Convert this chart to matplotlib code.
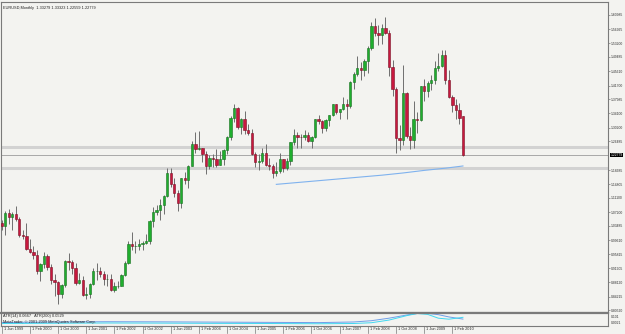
import numpy as np
import matplotlib.pyplot as plt
from matplotlib.patches import Rectangle

# EURUSD monthly, Jun 1999 .. May 2010 (one entry per bar)
opens = [
    1.0430, 1.0350, 1.0700, 1.0590, 1.0680, 1.0540, 1.0090,                          # 1999
    1.0070, 0.9710, 0.9650, 0.9560, 0.9120, 0.9320, 0.9520, 0.9240, 0.8880, 0.8810, 0.8490, 0.8730,  # 2000
    0.9400, 0.9380, 0.9210, 0.8790, 0.8870, 0.8470, 0.8500, 0.8770, 0.9120, 0.9130, 0.9050, 0.8900,  # 2001
    0.8900, 0.8600, 0.8700, 0.8720, 0.9020, 0.9340, 0.9870, 0.9790, 0.9810, 0.9860, 0.9890, 0.9930,  # 2002
    1.0490, 1.0730, 1.0780, 1.0910, 1.1170, 1.1800, 1.1490, 1.1240, 1.0980, 1.1650, 1.1590, 1.1990,  # 2003
    1.2590, 1.2440, 1.2480, 1.2300, 1.1970, 1.2200, 1.2170, 1.2020, 1.2180, 1.2420, 1.2760, 1.3280,  # 2004
    1.3550, 1.3040, 1.3250, 1.2960, 1.2870, 1.2300, 1.2100, 1.2120, 1.2340, 1.2020, 1.1970, 1.1780,  # 2005
    1.1840, 1.2160, 1.1920, 1.2110, 1.2620, 1.2820, 1.2780, 1.2770, 1.2810, 1.2670, 1.2760, 1.3250,  # 2006
    1.3200, 1.3010, 1.3230, 1.3360, 1.3660, 1.3450, 1.3530, 1.3660, 1.3620, 1.4260, 1.4490, 1.4640,  # 2007
    1.4590, 1.4850, 1.5180, 1.5790, 1.5610, 1.5550, 1.5740, 1.5600, 1.4670, 1.4070, 1.2740, 1.2700,  # 2008
    1.3970, 1.2800, 1.2680, 1.3250, 1.3240, 1.4150, 1.4030, 1.4250, 1.4330, 1.4640, 1.4710, 1.4990,  # 2009
    1.4320, 1.3860, 1.3630, 1.3510, 1.33279,                                          # 2010
]
highs = [
    1.0520, 1.0760, 1.0800, 1.0720, 1.0880, 1.0590, 1.0240,
    1.0415, 0.9980, 0.9800, 0.9680, 0.9340, 0.9650, 0.9580, 0.9300, 0.9030, 0.8860, 0.8770, 0.9420,
    0.9600, 0.9410, 0.9340, 0.9070, 0.8990, 0.8690, 0.8800, 0.9200, 0.9330, 0.9230, 0.9110, 0.9040,
    0.9050, 0.8820, 0.8840, 0.9050, 0.9390, 0.9950, 1.0180, 0.9940, 0.9980, 0.9930, 1.0140, 1.0500,
    1.0870, 1.0930, 1.1080, 1.1180, 1.1930, 1.1930, 1.1640, 1.1320, 1.1660, 1.1820, 1.2020, 1.2650,
    1.2900, 1.2930, 1.2480, 1.2390, 1.2270, 1.2300, 1.2440, 1.2400, 1.2440, 1.2790, 1.3330, 1.3670,
    1.3580, 1.3290, 1.3480, 1.3110, 1.2980, 1.2350, 1.2300, 1.2480, 1.2590, 1.2210, 1.2030, 1.2090,
    1.2330, 1.2180, 1.2190, 1.2640, 1.2980, 1.2900, 1.2840, 1.2950, 1.2900, 1.2800, 1.3260, 1.3370,
    1.3230, 1.3270, 1.3380, 1.3680, 1.3670, 1.3540, 1.3850, 1.3790, 1.4280, 1.4530, 1.4970, 1.4800,
    1.4880, 1.5250, 1.5900, 1.6020, 1.5820, 1.5840, 1.6040, 1.5670, 1.4870, 1.4120, 1.3100, 1.4720,
    1.4000, 1.3040, 1.3740, 1.3440, 1.4170, 1.4340, 1.4280, 1.4450, 1.4840, 1.5060, 1.5140, 1.5140,
    1.4580, 1.3920, 1.3800, 1.3690, 1.33323,
]
lows = [
    1.0250, 1.0110, 1.0400, 1.0250, 1.0470, 1.0050, 1.0000,
    0.9700, 0.9600, 0.9450, 0.9040, 0.8840, 0.9200, 0.9160, 0.8760, 0.8440, 0.8228, 0.8400, 0.8680,
    0.9160, 0.9050, 0.8740, 0.8780, 0.8430, 0.8350, 0.8380, 0.8740, 0.8870, 0.8950, 0.8740, 0.8710,
    0.8580, 0.8560, 0.8650, 0.8720, 0.8980, 0.9320, 0.9690, 0.9620, 0.9680, 0.9690, 0.9860, 0.9860,
    1.0330, 1.0650, 1.0500, 1.0660, 1.1130, 1.1410, 1.1140, 1.0760, 1.0830, 1.1490, 1.1390, 1.1980,
    1.2340, 1.2420, 1.2080, 1.1760, 1.1910, 1.1950, 1.1950, 1.2000, 1.2000, 1.2300, 1.2700, 1.3180,
    1.2980, 1.2840, 1.2850, 1.2810, 1.2280, 1.1950, 1.1870, 1.2060, 1.1990, 1.1880, 1.1640, 1.1700,
    1.1800, 1.1820, 1.1860, 1.2010, 1.2560, 1.2460, 1.2460, 1.2690, 1.2630, 1.2480, 1.2730, 1.3110,
    1.2870, 1.2930, 1.3080, 1.3330, 1.3400, 1.3260, 1.3500, 1.3260, 1.3560, 1.4080, 1.4430, 1.4330,
    1.4420, 1.4510, 1.5150, 1.5530, 1.5280, 1.5300, 1.5570, 1.4430, 1.3880, 1.2330, 1.2420, 1.2540,
    1.2740, 1.2450, 1.2460, 1.2890, 1.3210, 1.3750, 1.3850, 1.4050, 1.4210, 1.4560, 1.4670, 1.4220,
    1.3840, 1.3440, 1.3270, 1.3110, 1.22559,
]
closes = [
    1.0350, 1.0700, 1.0590, 1.0680, 1.0540, 1.0090, 1.0070,
    0.9710, 0.9650, 0.9560, 0.9120, 0.9320, 0.9520, 0.9240, 0.8880, 0.8810, 0.8490, 0.8730, 0.9400,
    0.9380, 0.9210, 0.8790, 0.8870, 0.8470, 0.8500, 0.8770, 0.9120, 0.9130, 0.9050, 0.8900, 0.8900,
    0.8600, 0.8700, 0.8720, 0.9020, 0.9340, 0.9870, 0.9790, 0.9810, 0.9860, 0.9890, 0.9930, 1.0490,
    1.0730, 1.0780, 1.0910, 1.1170, 1.1800, 1.1490, 1.1240, 1.0980, 1.1650, 1.1590, 1.1990, 1.2590,
    1.2440, 1.2480, 1.2300, 1.1970, 1.2200, 1.2170, 1.2020, 1.2180, 1.2420, 1.2760, 1.3280, 1.3550,
    1.3040, 1.3250, 1.2960, 1.2870, 1.2300, 1.2100, 1.2120, 1.2340, 1.2020, 1.1970, 1.1780, 1.1840,
    1.2160, 1.1920, 1.2110, 1.2620, 1.2820, 1.2780, 1.2770, 1.2810, 1.2670, 1.2760, 1.3250, 1.3200,
    1.3010, 1.3230, 1.3360, 1.3660, 1.3450, 1.3530, 1.3660, 1.3620, 1.4260, 1.4490, 1.4640, 1.4590,
    1.4850, 1.5180, 1.5790, 1.5610, 1.5550, 1.5740, 1.5600, 1.4670, 1.4070, 1.2740, 1.2700, 1.3970,
    1.2800, 1.2680, 1.3250, 1.3240, 1.4150, 1.4030, 1.4250, 1.4330, 1.4640, 1.4710, 1.4990, 1.4320,
    1.3860, 1.3630, 1.3510, 1.3290, 1.22779,
]

# light blue moving-average line (bar index, price)
ma_bars = [78, 84, 90, 96, 102, 108, 114, 120, 126, 131]
ma_vals = [1.1480, 1.1530, 1.1580, 1.1630, 1.1680, 1.1730, 1.1790, 1.1860, 1.1920, 1.1980]

# horizontal levels
levels = [1.2505, 1.1917]

# ATR sub-window (bar index, value)
atr_bars = [0, 15, 30, 45, 60, 75, 90, 100, 105, 110, 115, 118, 121, 124, 127, 131]
atr14 = [0.018, 0.020, 0.022, 0.021, 0.019, 0.018, 0.016, 0.018, 0.024, 0.045, 0.080, 0.097, 0.090, 0.060, 0.052, 0.0667]
atr200 = [0.026, 0.030, 0.032, 0.031, 0.029, 0.027, 0.025, 0.030, 0.040, 0.060, 0.085, 0.097, 0.098, 0.088, 0.070, 0.0529]

price_ticks = ['0.80520', '0.84215', '0.88120', '0.91905', '0.95815', '0.99610', '1.03485',
               '1.07200', '1.11100', '1.14805', '1.18685', '1.26485', '1.30200', '1.34100',
               '1.37985', '1.41700', '1.45610', '1.49485', '1.53200', '1.56995', '1.60985']
date_labels = ['1 Jun 1999', '1 Feb 2000', '1 Oct 2000', '1 Jun 2001', '1 Feb 2002', '1 Oct 2002',
               '1 Jun 2003', '1 Feb 2004', '1 Oct 2004', '1 Jun 2005', '1 Feb 2006', '1 Oct 2006',
               '1 Jun 2007', '1 Feb 2008', '1 Oct 2008', '1 Jun 2009', '1 Feb 2010']

BG = '#f3f3f0'
FRAME = '#7a7a7a'
fs = 2.8
fs_r = 2.45
plt.rcParams['font.family'] = ['Liberation Sans', 'DejaVu Sans']

W, H = 625, 334
fig = plt.figure(figsize=(6.25, 3.34), dpi=100, facecolor=BG)

def px_rect(x0, y0, x1, y1):
    return [x0 / W, 1 - y1 / H, (x1 - x0) / W, (y1 - y0) / H]

ax = fig.add_axes(px_rect(1, 1.5, 608, 312))
ax.set_facecolor(BG)
n = len(closes)
ax.set_xlim(-0.2, 172.2)
ax.set_ylim(0.80057, 1.6457)

bw = 0.66
for i in range(n):
    o, h, l, c = opens[i], highs[i], lows[i], closes[i]
    ax.vlines(i, l, h, color='#6e6e6e', lw=0.7, zorder=2)
    up = c >= o
    fc = '#1fae2e' if up else '#c8183e'
    ec = '#176e20' if up else '#7a1025'
    ax.add_patch(Rectangle((i - bw / 2, min(o, c)), bw, max(abs(c - o), 0.0008),
                           facecolor=fc, edgecolor=ec, lw=0.4, zorder=3))

for lv in levels:
    ax.axhline(lv, color='#d2d2d2', lw=2.2, zorder=1)
ax.axhline(closes[-1], color='#a8a8a8', lw=0.7, zorder=1)
ax.plot(ma_bars, ma_vals, color='#7fb2ee', lw=0.8, zorder=2)

ax.set_xticks([])
ax.yaxis.tick_right()
ax.set_yticks([float(t) for t in price_ticks])
ax.set_yticklabels(price_ticks)
ax.tick_params(axis='y', length=1.5, width=0.5, color=FRAME, labelsize=fs_r, pad=0.6, labelcolor='#303030')
for s in ax.spines.values():
    s.set_color(FRAME)
    s.set_linewidth(0.8)

ax.text(0.004, 0.985, 'EURUSD,Monthly  1.33279 1.33323 1.22559 1.22779', transform=ax.transAxes,
        fontsize=fs, va='top', ha='left', color='#202020')
ax.text(1.004, closes[-1], '1.22779', transform=ax.get_yaxis_transform(), fontsize=fs_r,
        va='center', ha='left', color='white',
        bbox=dict(boxstyle='square,pad=0.1', facecolor='black', edgecolor='none'), clip_on=False)

# ATR sub-window
ax2 = fig.add_axes(px_rect(1, 313, 608, 325.5))
ax2.set_facecolor(BG)
ax2.set_xlim(-0.2, 172.2)
ax2.set_ylim(0.0021, 0.101)
ax2.plot(atr_bars, atr200, color='#6f9ee8', lw=0.7)
ax2.plot(atr_bars, atr14, color='#40d8f0', lw=0.7)
ax2.set_xticks([])
ax2.set_yticks([])
for s in ax2.spines.values():
    s.set_color(FRAME)
    s.set_linewidth(0.8)
ax2.spines['top'].set_linewidth(1.6)
ax2.text(1.005, 0.72, '0.101', transform=ax2.transAxes, fontsize=fs_r, va='center', ha='left', color='#303030')
ax2.text(1.005, 0.2, '0.0021', transform=ax2.transAxes, fontsize=fs_r, va='center', ha='left', color='#303030')
ax2.text(0.004, 0.93, 'ATR(14) 0.0667   ATR(200) 0.0529', transform=ax2.transAxes,
         fontsize=fs, va='top', ha='left', color='#202020')
ax2.text(0.004, 0.42, 'MetaTrader, \u00a9 2001-2009 MetaQuotes Software Corp.', transform=ax2.transAxes,
         fontsize=fs, va='top', ha='left', color='#202020')

# date labels under the chart
for k, lab in enumerate(date_labels):
    xb = 8 * k
    xp = 1.7 + 3.52 * xb
    fig.add_artist(plt.Line2D([xp / W, xp / W], [1 - 326 / H, 1 - 333 / H], color=FRAME, lw=0.5))
    fig.text((xp + 2) / W, 1 - 329.5 / H, lab, fontsize=fs, va='center', ha='left', color='#303030')

fig.savefig('out.png', dpi=100, facecolor=BG)
